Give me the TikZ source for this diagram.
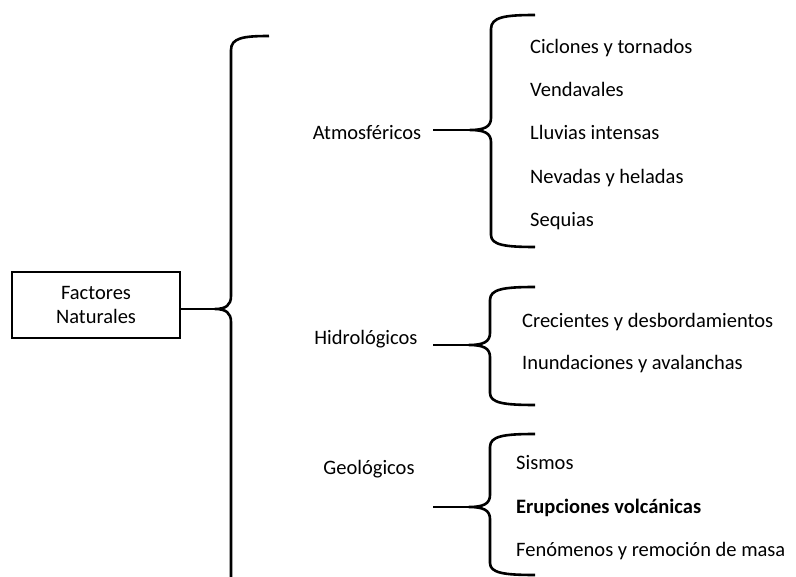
\documentclass[tikz,border=0pt]{standalone}
\usepackage{fontspec}
\setmainfont{Carlito}
\begin{document}
\begin{tikzpicture}[x=1pt,y=-1pt,
  br/.style={line width=2.6pt, line join=round},
  txt/.style={inner sep=0pt, anchor=base west, font=\fontsize{20.5}{24}\selectfont},
  cat/.style={inner sep=0pt, anchor=base, font=\fontsize{20.5}{24}\selectfont},
  box/.style={draw, line width=1.2pt, minimum width=168pt, minimum height=66pt, align=center, inner sep=0pt, font=\fontsize{20.5}{24.5}\selectfont}]
\useasboundingbox (0,0) rectangle (796,577);

% main box
\node[box] (fn) at (96,305) {Factores\\Naturales};

% big brace
\coordinate (bigtip) at (215,309);
\draw[br] (269,36) .. controls (243,36) and (231,38) .. (231,50) -- (231,296)
  .. controls (231,305) and (226,309) .. (bigtip)
  .. controls (226,309) and (231,313) .. (231,322) -- (231,577);
\draw[br] (fn.east |- bigtip) -- (bigtip);

% categories
\node[cat] (atm) at (367,140) {Atmosféricos};
\node[cat] (hid) at (366,344.5) {Hidrológicos};
\node[cat] (geo) at (369,474.5) {Geológicos};

% atmospheric brace
\coordinate (atip) at (470,130);
\coordinate (astart) at (433,130);
\draw[br] (535,15) .. controls (505,15) and (491,17) .. (491,29) -- (491,118)
  .. controls (491,127) and (484,130) .. (atip)
  .. controls (484,130) and (491,133) .. (491,142) -- (491,235)
  .. controls (491,245) and (505,247) .. (535,247);
\draw[br] (astart) -- (atip);

% hydrological brace
\coordinate (htip) at (469,345);
\coordinate (hstart) at (433,345);
\draw[br] (535,287) .. controls (504,287) and (490,289) .. (490,300) -- (490,333)
  .. controls (490,342) and (483,345) .. (htip)
  .. controls (483,345) and (490,348) .. (490,357) -- (490,393)
  .. controls (490,403) and (504,405) .. (535,405);
\draw[br] (hstart) -- (htip);

% geological brace
\coordinate (gtip) at (469,507);
\coordinate (gstart) at (433,507);
\draw[br] (535,434) .. controls (504,434) and (490,436) .. (490,447) -- (490,495)
  .. controls (490,504) and (483,507) .. (gtip)
  .. controls (483,507) and (490,510) .. (490,519) -- (490,563)
  .. controls (490,573) and (504,575) .. (535,575);
\draw[br] (gstart) -- (gtip);

% items
\node[txt] (a1) at (530,53.3) {Ciclones y tornados};
\node[txt] (a2) at (530,96.7) {Vendavales};
\node[txt] (a3) at (530,140) {Lluvias intensas};
\node[txt] (a4) at (530,183.4) {Nevadas y heladas};
\node[txt] (a5) at (530,226.8) {Sequias};

\node[txt] (h1) at (522,328) {Crecientes y desbordamientos};
\node[txt] (h2) at (522,370) {Inundaciones y avalanchas};

\node[txt] (g1) at (516,470) {Sismos};
\node[txt] (g2) at (516,513) {\bfseries Erupciones volcánicas};
\node[txt] (g3) at (516,556) {Fenómenos y remoción de masa};
\end{tikzpicture}
\end{document}
